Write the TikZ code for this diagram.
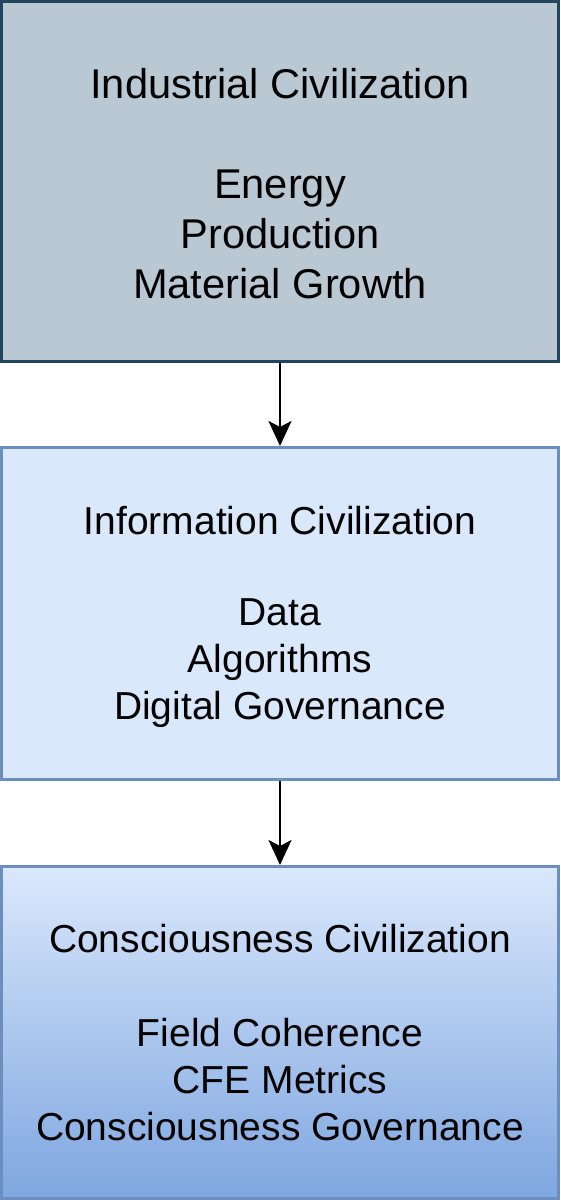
\documentclass[tikz,border=0pt]{standalone}
\usepackage{fontspec}
\setmainfont{Liberation Sans}
\usepackage{tikz}
\usetikzlibrary{arrows.meta}

\definecolor{indfill}{HTML}{BAC8D3}
\definecolor{indline}{HTML}{23445D}
\definecolor{infofill}{HTML}{DAE8FC}
\definecolor{infoline}{HTML}{6C8EBF}
\definecolor{consfill}{HTML}{7EA6E0}

\newcommand{\bigtext}{\fontsize{41.6}{50}\selectfont}
\newcommand{\smalltext}{\fontsize{39}{46.8}\selectfont}

\tikzset{
  stagebox/.style={rectangle, draw, line width=2.6pt, minimum width=557.4pt, inner sep=0pt},
  stagetext/.style={align=center, inner sep=0pt},
  flow/.style={-{Stealth[length=25pt,width=23pt,inset=6pt]}, line width=2.6pt}
}

\begin{document}
\begin{tikzpicture}[x=1pt,y=-1pt]
			%	\draw[very thin,densely dashed] (0,0) grid[step=50] (560,1200);
			\useasboundingbox (0,0) rectangle (560,1200);
			\node [stagebox, fill=indfill, draw=indline, minimum height=360.4pt] (ind) at (280,181.5) {};
			\node [stagebox, fill=infofill, draw=infoline, minimum height=332.4pt] (info) at (280,613.5) {};
			\node [stagebox, top color=infofill, bottom color=consfill, draw=infoline, minimum height=332.4pt]
				(cons) at (280,1032.5) {};
			\node [stagetext, font=\bigtext] (indtxt) at (280,183.5)
				{Industrial Civilization\\[50pt]Energy\\Production\\Material Growth};
			\node [stagetext, font=\smalltext] (infotxt) at (280,617)
				{Information Civilization\\[44pt]Data\\Algorithms\\Digital Governance};
			\node [stagetext, font=\smalltext] (constxt) at (280,1032.5)
				{Consciousness Civilization\\[46.8pt]Field Coherence\\CFE Metrics\\Consciousness Governance};
			\draw (ind) edge[flow] (info)
			(info) edge[flow] (cons);
		\end{tikzpicture}
\end{document}
